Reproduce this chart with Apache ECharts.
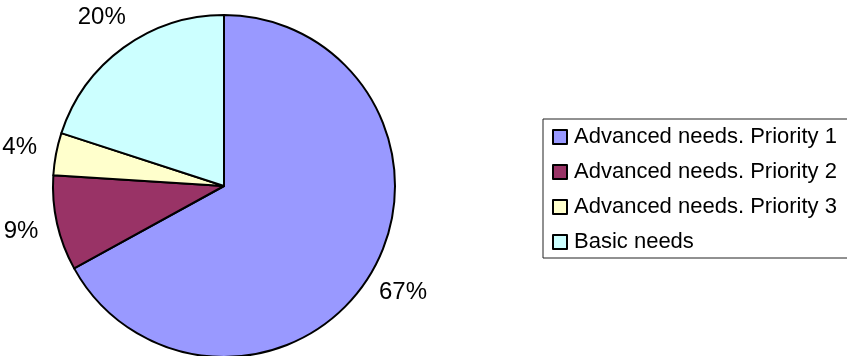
<!DOCTYPE html>
<html>
<head>
<meta charset="utf-8">
<script src="https://cdn.jsdelivr.net/npm/echarts@6/dist/echarts.min.js"></script>
<style>
  html, body { margin: 0; padding: 0; background: #ffffff; }
  #chart { width: 847px; height: 356px; }
</style>
</head>
<body>
<div id="chart"></div>
<script>
// Share of needs by category (percent)
const categories = [
  'Advanced needs. Priority 1',
  'Advanced needs. Priority 2',
  'Advanced needs. Priority 3',
  'Basic needs'
];
const shares = [67, 9, 4, 20];
const colors = ['#9999FF', '#993366', '#FFFFCC', '#CCFFFF'];

const FONT = "'Liberation Sans', Arial, sans-serif";
const pieData = categories.map((name, i) => ({ name, value: shares[i] }));

const chart = echarts.init(document.getElementById('chart'), null, { renderer: 'canvas' });

chart.setOption({
  animation: false,
  backgroundColor: '#ffffff',
  color: colors,
  legend: {
    orient: 'vertical',
    left: 543,
    top: 119,
    padding: [7, 30, 5, 9],
    itemGap: 13,
    itemWidth: 14,
    itemHeight: 14,
    icon: 'rect',
    selectedMode: false,
    borderColor: '#222222',
    borderWidth: 1,
    backgroundColor: '#ffffff',
    data: categories,
    textStyle: {
      fontFamily: FONT,
      fontSize: 22,
      lineHeight: 22,
      color: '#000000',
      padding: [0, 0, 0, 2]
    }
  },
  series: [
    {
      // slices
      type: 'pie',
      center: [224, 186],
      radius: 171,
      startAngle: 90,
      clockwise: true,
      silent: true,
      data: pieData,
      itemStyle: { borderColor: '#000000', borderWidth: 2 },
      label: { show: false },
      labelLine: { show: false },
      emphasis: { disabled: true }
    },
    {
      // percentage labels placed on a ring just outside the pie
      type: 'pie',
      center: [224, 186],
      radius: [182, 228],
      startAngle: 90,
      clockwise: true,
      silent: true,
      data: pieData,
      itemStyle: { color: 'rgba(0,0,0,0)', borderWidth: 0 },
      label: {
        show: true,
        position: 'inside',
        formatter: '{c}%',
        fontFamily: FONT,
        fontSize: 24,
        color: '#000000'
      },
      labelLine: { show: false },
      emphasis: { disabled: true }
    }
  ]
});
</script>
</body>
</html>
